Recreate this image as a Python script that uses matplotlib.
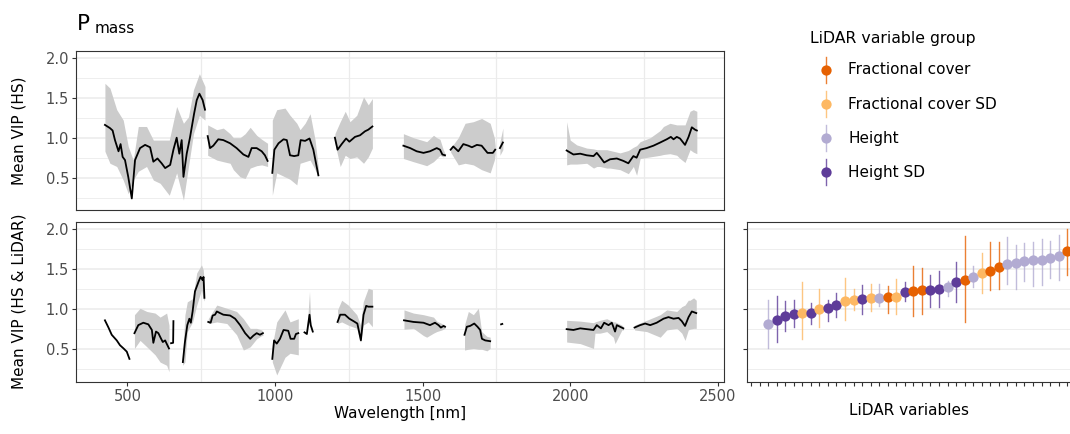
import numpy as np
import matplotlib
matplotlib.use("Agg")
import matplotlib.pyplot as plt
from matplotlib.lines import Line2D

plt.rcParams['font.family'] = ['DejaVu Sans']

# ---------------- Top panel: Mean VIP (HS) ----------------
hs_line_wl = [
    [424, 441, 450, 458, 470, 477, 484, 492, 503, 515, 526, 543, 560, 577, 588, 602, 616, 628, 645,
     656, 667, 676, 684, 690, 701, 712, 726, 735, 744, 755, 763],
    [772, 780, 791, 808, 825, 848, 870, 893, 910, 921, 938, 955, 966, 975],
    [991, 998, 1012, 1029, 1040, 1051, 1065, 1079, 1087, 1102, 1117, 1130, 1147],
    [1203, 1212, 1226, 1241, 1252, 1271, 1288, 1305, 1316, 1330],
    [1435, 1458, 1480, 1503, 1525, 1548, 1559, 1567, 1576],
    [1595, 1604, 1621, 1638, 1655, 1667, 1684, 1700, 1720, 1738, 1746],
    [1762, 1772],
    [1988, 2011, 2034, 2056, 2079, 2090, 2101, 2115, 2135, 2158, 2180, 2197, 2214, 2225, 2237, 2259,
     2282, 2305, 2327, 2341, 2350, 2361, 2372, 2389, 2401, 2412, 2423, 2429],
]
hs_line_vip = [
    [1.16, 1.12, 1.09, 0.97, 0.83, 0.92, 0.76, 0.72, 0.51, 0.24, 0.72, 0.87, 0.91, 0.88, 0.70, 0.74,
     0.68, 0.62, 0.66, 0.85, 1.00, 0.80, 0.97, 0.51, 0.80, 1.00, 1.30, 1.47, 1.55, 1.47, 1.35],
    [1.02, 0.87, 0.90, 0.98, 0.97, 0.93, 0.87, 0.79, 0.76, 0.87, 0.87, 0.83, 0.78, 0.71],
    [0.56, 0.85, 0.93, 0.98, 0.97, 0.78, 0.77, 0.78, 0.97, 0.96, 0.99, 0.85, 0.53],
    [1.00, 0.85, 0.92, 0.99, 0.95, 1.01, 1.03, 1.08, 1.10, 1.14],
    [0.90, 0.87, 0.83, 0.81, 0.83, 0.87, 0.85, 0.79, 0.78],
    [0.85, 0.89, 0.83, 0.92, 0.90, 0.88, 0.91, 0.90, 0.81, 0.81, 0.85],
    [0.87, 0.94],
    [0.84, 0.79, 0.80, 0.78, 0.77, 0.81, 0.76, 0.69, 0.73, 0.74, 0.71, 0.68, 0.77, 0.75, 0.85, 0.87,
     0.90, 0.94, 0.98, 1.01, 0.98, 1.01, 0.99, 0.91, 1.01, 1.13, 1.10, 1.09],
]
hs_band_wl = [
    [424, 441, 464, 486, 503, 520, 537, 565, 588, 611, 642, 667, 690, 707, 724, 744, 763],
    [772, 803, 825, 848, 859, 882, 899, 916, 938, 955, 975],
    [991, 1006, 1034, 1051, 1074, 1085, 1102, 1119, 1136, 1147],
    [1203, 1221, 1238, 1254, 1277, 1300, 1316, 1330],
    [1435, 1469, 1514, 1537, 1548, 1559, 1570, 1576],
    [1595, 1621, 1644, 1672, 1700, 1729, 1743, 1746],
    [1762, 1772],
    [1988, 2000, 2022, 2056, 2079, 2090, 2101, 2124, 2135, 2169, 2197, 2214, 2225, 2237, 2271, 2305,
     2316, 2338, 2361, 2372, 2389, 2406, 2417, 2429],
]
hs_band_lo = [
    [0.83, 0.68, 0.64, 0.47, 0.30, 0.47, 0.58, 0.64, 0.47, 0.43, 0.28, 0.56, 0.22, 0.64, 1.05, 1.28, 1.22],
    [0.78, 0.72, 0.70, 0.68, 0.60, 0.51, 0.49, 0.62, 0.65, 0.66, 0.64],
    [0.28, 0.56, 0.51, 0.48, 0.41, 0.68, 0.70, 0.72, 0.60, 0.51],
    [0.93, 0.64, 0.78, 0.74, 0.76, 0.68, 0.76, 0.87],
    [0.74, 0.70, 0.65, 0.70, 0.74, 0.78, 0.76, 0.77],
    [0.82, 0.66, 0.68, 0.66, 0.60, 0.56, 0.72, 0.80],
    [0.78, 0.85],
    [0.66, 0.67, 0.67, 0.68, 0.62, 0.64, 0.64, 0.62, 0.62, 0.60, 0.55, 0.64, 0.53, 0.74, 0.76, 0.78,
     0.79, 0.80, 0.78, 0.74, 0.69, 0.85, 0.82, 0.80],
]
hs_band_hi = [
    [1.68, 1.62, 1.35, 1.22, 0.89, 0.72, 1.14, 1.14, 0.97, 0.97, 0.97, 1.39, 1.18, 1.26, 1.60, 1.80, 1.64],
    [1.16, 1.10, 1.12, 1.05, 1.00, 1.00, 1.05, 1.13, 1.03, 0.98, 0.93],
    [1.22, 1.35, 1.37, 1.28, 1.18, 1.10, 1.18, 1.30, 0.97, 0.62],
    [1.05, 1.20, 1.33, 1.20, 1.28, 1.51, 1.41, 1.49],
    [1.05, 1.00, 0.95, 1.03, 1.00, 0.98, 0.85, 0.80],
    [0.87, 1.00, 1.18, 1.20, 1.24, 1.18, 1.00, 0.90],
    [0.95, 1.12],
    [1.20, 0.97, 0.91, 0.87, 0.86, 0.85, 0.85, 0.85, 0.84, 0.81, 0.84, 0.88, 0.90, 0.95, 1.00, 1.09,
     1.14, 1.18, 1.16, 1.16, 1.16, 1.33, 1.35, 1.33],
]

# ---------------- Bottom panel: Mean VIP (HS & LiDAR) ----------------
both_line_wl = [
    [424, 436, 447, 464, 475, 487, 498, 507],
    [524, 537, 554, 571, 583, 588, 597, 605, 613, 620, 628, 633, 641],
    [648, 655, 656],
    [688, 695, 703, 710, 715, 721, 729, 741, 748, 755, 758, 761],
    [774, 782, 789, 797, 803, 825, 848, 865, 882, 899, 916, 927, 938, 949, 959],
    [991, 997, 1006, 1017, 1029, 1045, 1053, 1065, 1071, 1079],
    [1100, 1108, 1117, 1121, 1128],
    [1212, 1221, 1237, 1252, 1266, 1279, 1291, 1300, 1309, 1316, 1330],
    [1437, 1469, 1503, 1525, 1542, 1554, 1562, 1571, 1576],
    [1642, 1650, 1661, 1675, 1686, 1695, 1701, 1712, 1729],
    [1766, 1770],
    [1988, 2011, 2034, 2056, 2079, 2090, 2104, 2115, 2130, 2141, 2152, 2158, 2169, 2180],
    [2218, 2237, 2254, 2271, 2293, 2316, 2333, 2350, 2367, 2378, 2389, 2401, 2412, 2427],
]
both_line_vip = [
    [0.86, 0.77, 0.68, 0.61, 0.55, 0.51, 0.47, 0.38],
    [0.70, 0.80, 0.83, 0.81, 0.74, 0.58, 0.72, 0.70, 0.64, 0.59, 0.61, 0.57, 0.51],
    [0.575, 0.58, 0.85],
    [0.34, 0.59, 0.80, 0.88, 0.83, 0.97, 1.22, 1.34, 1.40, 1.36, 1.40, 1.14],
    [0.84, 0.83, 0.92, 0.93, 0.97, 0.93, 0.92, 0.88, 0.80, 0.70, 0.63, 0.67, 0.70, 0.68, 0.70],
    [0.38, 0.61, 0.57, 0.63, 0.74, 0.73, 0.63, 0.63, 0.69, 0.70],
    [0.71, 0.69, 0.93, 0.80, 0.72],
    [0.84, 0.93, 0.93, 0.88, 0.85, 0.82, 0.61, 0.93, 1.04, 1.03, 1.03],
    [0.86, 0.84, 0.83, 0.80, 0.83, 0.80, 0.77, 0.79, 0.78],
    [0.68, 0.78, 0.79, 0.82, 0.78, 0.74, 0.63, 0.61, 0.60],
    [0.81, 0.815],
    [0.75, 0.74, 0.76, 0.75, 0.74, 0.80, 0.76, 0.83, 0.80, 0.83, 0.72, 0.80, 0.78, 0.76],
    [0.77, 0.80, 0.82, 0.80, 0.83, 0.88, 0.90, 0.88, 0.89, 0.85, 0.79, 0.90, 0.97, 0.95],
]
both_band_wl = [
    [524, 543, 566, 594, 611, 633, 641],
    [687, 695, 703, 721, 735, 751, 757, 761],
    [774, 803, 837, 870, 893, 916, 938, 955, 959],
    [991, 1006, 1034, 1051, 1079],
    [1100, 1108, 1117, 1121, 1128],
    [1212, 1226, 1248, 1277, 1290, 1299, 1316, 1330],
    [1437, 1469, 1503, 1514, 1537, 1548, 1565, 1576],
    [1642, 1655, 1672, 1689, 1700, 1718, 1729],
    [1988, 2034, 2079, 2084, 2101, 2124, 2146, 2152, 2175, 2180],
    [2218, 2259, 2305, 2327, 2361, 2378, 2389, 2400, 2406, 2418, 2427],
]
both_band_lo = [
    [0.51, 0.61, 0.53, 0.43, 0.34, 0.30, 0.22],
    [0.30, 0.34, 0.72, 0.84, 1.05, 1.24, 1.13, 1.10],
    [0.82, 0.84, 0.82, 0.68, 0.49, 0.53, 0.63, 0.67, 0.67],
    [0.34, 0.18, 0.40, 0.45, 0.43],
    [0.70, 0.68, 0.90, 0.79, 0.70],
    [0.82, 0.84, 0.80, 0.76, 0.59, 0.80, 0.84, 0.78],
    [0.75, 0.76, 0.67, 0.65, 0.70, 0.72, 0.74, 0.76],
    [0.49, 0.50, 0.51, 0.50, 0.50, 0.48, 0.51],
    [0.59, 0.57, 0.51, 0.70, 0.70, 0.72, 0.65, 0.57, 0.74, 0.74],
    [0.74, 0.72, 0.65, 0.74, 0.76, 0.70, 0.61, 0.74, 0.75, 0.76, 0.76],
]
both_band_hi = [
    [0.93, 1.01, 0.97, 0.95, 0.90, 0.95, 0.80],
    [0.40, 0.93, 1.09, 1.13, 1.45, 1.55, 1.49, 1.30],
    [0.88, 1.05, 1.01, 0.97, 0.88, 0.76, 0.76, 0.74, 0.72],
    [0.55, 0.84, 0.99, 0.84, 0.88],
    [0.72, 0.72, 1.22, 0.85, 0.73],
    [0.99, 1.11, 1.05, 0.93, 0.80, 1.09, 1.26, 1.24],
    [0.99, 0.95, 0.93, 0.92, 0.90, 0.85, 0.82, 0.80],
    [0.80, 0.97, 0.93, 1.01, 0.72, 0.66, 0.65],
    [0.86, 0.85, 0.83, 0.84, 0.86, 0.88, 0.84, 0.84, 0.80, 0.78],
    [0.80, 0.86, 0.93, 0.99, 0.97, 1.03, 1.05, 1.11, 1.11, 1.14, 1.11],
]

# ---------------- Right panel: LiDAR variables ----------------
lidar_group = ["Height", "Height",
               "Height", "Height SD", "Height SD", "Height SD", "Fractional cover SD", "Height SD",
               "Fractional cover SD", "Height SD", "Height SD", "Fractional cover SD",
               "Fractional cover SD", "Height SD", "Fractional cover SD", "Height",
               "Fractional cover", "Fractional cover SD", "Height SD", "Fractional cover",
               "Fractional cover", "Height SD", "Height SD", "Height", "Height SD",
               "Fractional cover", "Height", "Fractional cover SD", "Fractional cover",
               "Fractional cover", "Height", "Height", "Height", "Height", "Height", "Height",
               "Height", "Fractional cover"]
lidar_vip = [np.nan, np.nan,
             0.808, 0.862, 0.912, 0.9375, 0.946, 0.946, 1.0, 1.0125, 1.046, 1.1, 1.108, 1.125,
             1.1375, 1.142, 1.146, 1.15, 1.2125, 1.225, 1.233, 1.242, 1.254, 1.271, 1.3375,
             1.3625, 1.4, 1.446, 1.471, 1.521, 1.567, 1.575, 1.6, 1.608, 1.6125, 1.6375, 1.6625,
             1.729]
lidar_lo = [np.nan, np.nan,
            0.521, 0.587, 0.733, 0.771, 0.629, 0.8125, 0.771, 0.854, 0.896, 0.858, 0.983, 0.933,
            0.979, 1.033, 0.954, 0.942, 1.104, 0.908, 0.933, 1.025, 1.025, 1.167, 1.0875, 0.833,
            1.271, 1.2, 1.233, 1.254, 1.317, 1.254, 1.35, 1.283, 1.296, 1.383, 1.367, 1.42]
lidar_hi = [np.nan, np.nan,
            1.117, 1.158, 1.096, 1.117, 1.333, 1.075, 1.25, 1.117, 1.2, 1.3875, 1.254, 1.296,
            1.308, 1.317, 1.2875, 1.371, 1.3375, 1.533, 1.5125, 1.421, 1.479, 1.354, 1.5875,
            1.908, 1.542, 1.7, 1.8375, 1.8375, 1.9, 1.796, 1.825, 1.8375, 1.867, 1.85, 1.92, 2.0]

group_names = ["Fractional cover", "Fractional cover SD", "Height", "Height SD"]
group_colors = ["#E66101", "#FDB863", "#B2ABD2", "#5E3C99"]

# ---------------- Figure ----------------
W, H = 1070, 434
fig = plt.figure(figsize=(W / 100, H / 100), dpi=100)


def rect(l, t, r, b):
    return [l / W, 1 - b / H, (r - l) / W, (b - t) / H]


ax_top = fig.add_axes(rect(76, 50.7, 724, 210))
ax_bot = fig.add_axes(rect(76, 221.7, 724, 381.7))
ax_rt = fig.add_axes(rect(746.7, 221.7, 1071.5, 381.7))

YLIM = (0.096, 2.0875)
GRID = "#EBEBEB"
BORDER = "#333333"
TICKTXT = "#4D4D4D"


def style(ax):
    ax.set_ylim(*YLIM)
    ax.set_yticks([0.5, 1.0, 1.5, 2.0])
    ax.set_yticks([0.25, 0.75, 1.25, 1.75], minor=True)
    ax.grid(True, axis='y', which='major', color=GRID, lw=1.1, zorder=0)
    ax.grid(True, axis='y', which='minor', color=GRID, lw=0.6, zorder=0)
    ax.set_axisbelow(True)
    for s in ax.spines.values():
        s.set_color(BORDER)
        s.set_linewidth(0.8)
    ax.tick_params(which='major', length=3, width=0.8, color=BORDER,
                   labelsize=10.5, labelcolor=TICKTXT, pad=2)
    ax.tick_params(which='minor', length=0)


def spectral(ax, lw_, lv_, bw_, blo_, bhi_):
    for w, lo, hi in zip(bw_, blo_, bhi_):
        ax.fill_between(w, lo, hi, color="#CCCCCC", lw=0, zorder=2)
    for w, v in zip(lw_, lv_):
        ax.plot(w, v, color="black", lw=1.3, zorder=3, solid_joinstyle='round')
    style(ax)
    ax.set_xlim(326, 2521)
    ax.set_xticks([500, 1000, 1500, 2000, 2500])
    ax.set_xticks([750, 1250, 1750, 2250], minor=True)
    ax.grid(True, axis='x', which='minor', color=GRID, lw=0.9, zorder=0)


spectral(ax_top, hs_line_wl, hs_line_vip, hs_band_wl, hs_band_lo, hs_band_hi)
spectral(ax_bot, both_line_wl, both_line_vip, both_band_wl, both_band_lo, both_band_hi)
ax_top.tick_params(axis='x', which='major', length=0, labelbottom=False)
ax_top.set_ylabel("Mean VIP (HS)", fontsize=11, labelpad=6)
ax_bot.set_ylabel("Mean VIP (HS & LiDAR)", fontsize=11, labelpad=6)
ax_bot.set_xlabel("Wavelength [nm]", fontsize=11, labelpad=2)
ax_top.yaxis.set_label_coords(-0.076, 0.5)
ax_bot.yaxis.set_label_coords(-0.076, 0.5)

# Right panel
style(ax_rt)
xpos = np.arange(len(lidar_vip))
cmap = dict(zip(group_names, group_colors))
for x, g, v, lo, hi in zip(xpos, lidar_group, lidar_vip, lidar_lo, lidar_hi):
    if np.isnan(v):
        continue
    c = cmap[g]
    ax_rt.plot([x, x], [lo, hi], color=c, lw=1.0, alpha=0.8, zorder=3)
    ax_rt.plot([x], [v], 'o', color=c, ms=7.4, mew=0, zorder=4)
ax_rt.set_xlim(-0.5, len(lidar_vip) - 0.5)
ax_rt.set_xticks(xpos)
ax_rt.set_xticklabels([])
ax_rt.set_yticklabels([])
ax_rt.set_xlabel("LiDAR variables", fontsize=11, labelpad=10)

# Legend (drawn manually)
fig.text(810.5 / W, 1 - 39 / H, "LiDAR variable group", fontsize=11.3, va='center', ha='left')
for i, (g, c) in enumerate(zip(group_names, group_colors)):
    yc = 70 + i * 34.1
    fig.add_artist(Line2D([826 / W, 826 / W], [1 - (yc - 13) / H, 1 - (yc + 13) / H],
                          transform=fig.transFigure, color=c, lw=1.0, alpha=0.8))
    fig.add_artist(Line2D([826 / W], [1 - yc / H], transform=fig.transFigure,
                          marker='o', color=c, ms=7.4, mew=0))
    fig.text(848 / W, 1 - yc / H, g, fontsize=11, va='center', ha='left')

# Title P_mass
fig.text(77 / W, 1 - 30 / H, "P", fontsize=15.5, va='baseline', ha='left')
fig.text(94.5 / W, 1 - 33 / H, "mass", fontsize=11, va='baseline', ha='left')

fig.savefig("out.png", dpi=100)
